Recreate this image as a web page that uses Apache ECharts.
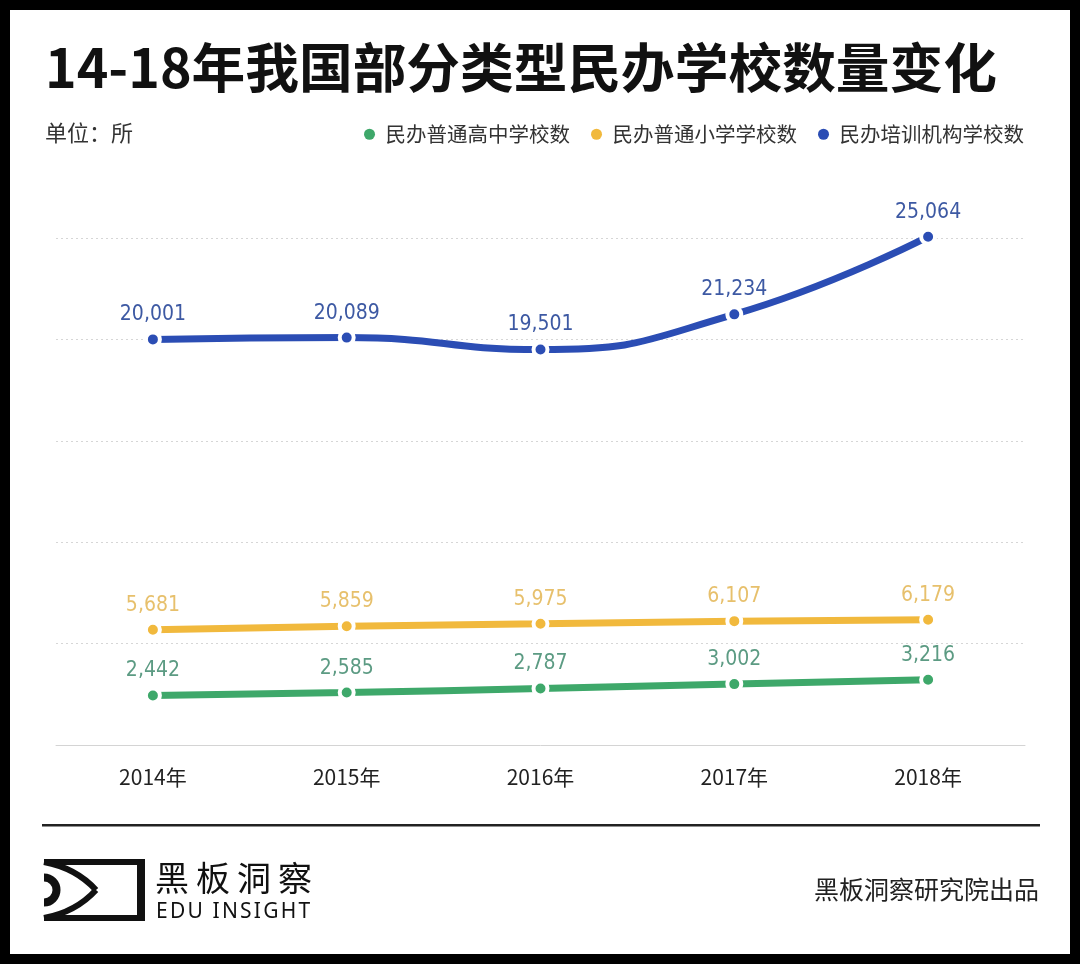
<!DOCTYPE html>
<html>
<head>
<meta charset="utf-8">
<script src="https://cdn.jsdelivr.net/npm/echarts@6/dist/echarts.min.js"></script>
<style>
html,body{margin:0;padding:0;background:#fff;}
#chart{width:1080px;height:964px;}
</style>
</head>
<body>
<div id="chart"></div>
<script>
const years = ['2014年', '2015年', '2016年', '2017年', '2018年'];
const seriesNames = ['民办普通高中学校数', '民办普通小学学校数', '民办培训机构学校数'];
const highSchool = [2442, 2585, 2787, 3002, 3216];
const primary = [5681, 5859, 5975, 6107, 6179];
const training = [20001, 20089, 19501, 21234, 25064];
const yTicks = [0, 5000, 10000, 15000, 20000, 25000];

const titleText = '14-18年我国部分类型民办学校数量变化';
const unitText = '单位：所';
const brandCN = '黑板洞察';
const brandEN = 'EDU INSIGHT';
const credit = '黑板洞察研究院出品';

const CJK = '"Noto Sans CJK SC", "Noto Sans", sans-serif';
const NUM = '"DejaVu Sans Condensed", "Liberation Sans Narrow", "Roboto", sans-serif';

const lineColors = ['#3ea86a', '#f1b93d', '#2b4db4'];
const labelColors = ['#5c9b83', '#e7c06c', '#3d59a3'];

const ctx = document.createElement('canvas').getContext('2d');
function spaced(text, x, y, font, spacing, fill) {
  ctx.font = font;
  const els = [];
  let cx = x;
  for (const ch of text) {
    els.push({type: 'text', silent: true, style: {text: ch, x: cx, y: y, font: font, fill: fill,
      textVerticalAlign: 'middle', verticalAlign: 'middle'}});
    cx += ctx.measureText(ch).width + spacing;
  }
  return els;
}

function makeSeries(name, data, i) {
  return {
    name: name, type: 'line', data: data, smooth: true, clip: false,
    symbol: 'circle', symbolSize: 14,
    lineStyle: {width: 7, color: lineColors[i]},
    itemStyle: {color: lineColors[i], borderColor: '#fff', borderWidth: 4},
    label: {show: true, position: 'top', distance: 5, color: labelColors[i],
      fontFamily: NUM, fontSize: 21,
      formatter: p => p.value.toLocaleString('en-US')},
    emphasis: {disabled: true}, z: 3 + i
  };
}

const chart = echarts.init(document.getElementById('chart'));
const graphics = [
  {type: 'rect', silent: true, z: 100, shape: {x: 5, y: 5, width: 1070, height: 954},
    style: {fill: 'none', stroke: '#000', lineWidth: 10}},
  {type: 'text', silent: true, style: {text: titleText, x: 45, y: 68, font: 'bold 53.7px ' + CJK, fill: '#111',
    textVerticalAlign: 'middle', verticalAlign: 'middle'}},
  {type: 'text', silent: true, style: {text: unitText, x: 45, y: 133, font: '22px ' + CJK, fill: '#333',
    textVerticalAlign: 'middle', verticalAlign: 'middle'}},
  {type: 'rect', silent: true, shape: {x: 42, y: 824, width: 998, height: 2.5}, style: {fill: '#222'}},
  // logo frame
  {type: 'rect', silent: true, shape: {x: 44, y: 859, width: 101, height: 6}, style: {fill: '#111'}},
  {type: 'rect', silent: true, shape: {x: 44, y: 915, width: 101, height: 6}, style: {fill: '#111'}},
  {type: 'rect', silent: true, shape: {x: 137, y: 859, width: 8, height: 62}, style: {fill: '#111'}},
  {type: 'bezierCurve', silent: true, shape: {x1: 44, y1: 862, cpx1: 76, cpy1: 868, x2: 96, y2: 890},
    style: {stroke: '#111', lineWidth: 6, fill: 'none'}},
  {type: 'bezierCurve', silent: true, shape: {x1: 96, y1: 890, cpx1: 76, cpy1: 912, x2: 44, y2: 918},
    style: {stroke: '#111', lineWidth: 6, fill: 'none'}},
  {type: 'arc', silent: true, shape: {cx: 44, cy: 890, r: 12.5, startAngle: -Math.PI / 2, endAngle: Math.PI / 2, clockwise: true},
    style: {stroke: '#111', lineWidth: 8, fill: 'none'}},
  {type: 'text', silent: true, style: {text: credit, x: 1039, y: 889, font: '25px ' + CJK, fill: '#222',
    textAlign: 'right', align: 'right', textVerticalAlign: 'middle', verticalAlign: 'middle'}}
].concat(spaced(brandCN, 155, 878, '34px ' + CJK, 7, '#111'))
 .concat(spaced(brandEN, 156, 912, '21px "Noto Sans", sans-serif', 2.2, '#111'));

chart.setOption({
  animation: false,
  backgroundColor: '#fff',
  grid: {left: 56, right: 55, top: 238, bottom: 219, containLabel: false},
  legend: {
    right: 51, top: 119, itemWidth: 22, itemHeight: 11, itemGap: 21, icon: 'circle',
    data: seriesNames,
    itemStyle: {borderWidth: 0},
    textStyle: {fontFamily: CJK, fontSize: 20.5, color: '#333'}
  },
  xAxis: {
    type: 'category', data: years, boundaryGap: true,
    axisLine: {lineStyle: {color: '#d4d4d4', width: 1}},
    axisTick: {show: false},
    axisLabel: {color: '#222', fontFamily: CJK, fontSize: 21, margin: 22}
  },
  yAxis: {
    type: 'value', min: yTicks[0], max: yTicks[yTicks.length - 1], interval: yTicks[1] - yTicks[0],
    axisLine: {show: false}, axisTick: {show: false}, axisLabel: {show: false},
    splitLine: {lineStyle: {color: '#d6d6d6', type: [2, 3], width: 1}}
  },
  series: [
    makeSeries(seriesNames[0], highSchool, 0),
    makeSeries(seriesNames[1], primary, 1),
    makeSeries(seriesNames[2], training, 2)
  ],
  graphic: graphics
});
</script>
</body>
</html>
